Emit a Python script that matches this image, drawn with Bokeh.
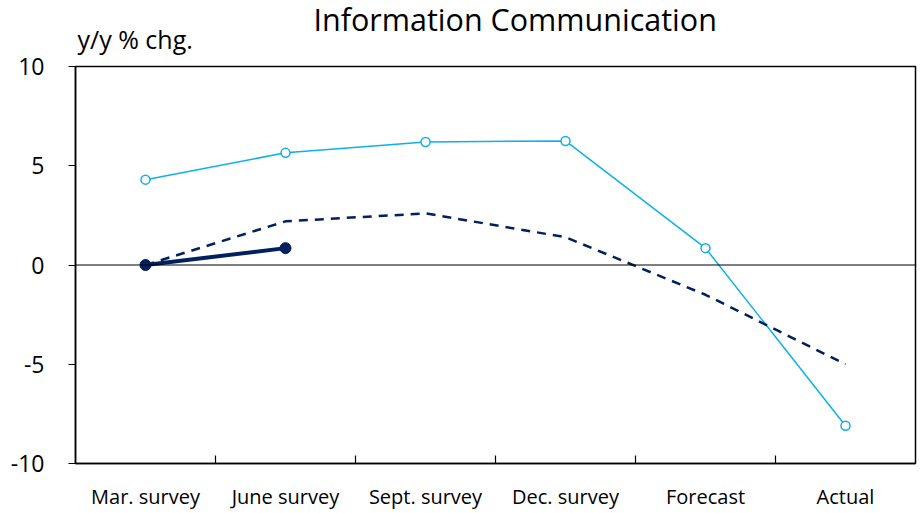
from bokeh.plotting import figure
from bokeh.models import FixedTicker, Span, Range1d, Title
from bokeh.embed import file_html
from bokeh.resources import INLINE

categories = ["Mar. survey", "June survey", "Sept. survey", "Dec. survey", "Forecast", "Actual"]
series_light = [4.3, 5.65, 6.2, 6.25, 0.85, -8.1]
series_dashed = [0.0, 2.2, 2.6, 1.4, -1.5, -5.0]
series_solid = [0.0, 0.85]
y_ticks = [-10, -5, 0, 5, 10]
y_tick_labels = ["-10", "-5", "0", "5", "10"]

FONT = "Open Sans"
LIGHT = "#0DB0EE"
NAVY = "#002060"

xs = [i + 0.5 for i in range(len(categories))]

p = figure(width=922, height=513, output_backend="svg", toolbar_location=None, title=None,
           x_range=Range1d(0, len(categories)), y_range=Range1d(-10, 10),
           min_border_left=75, min_border_right=7, min_border_top=66, min_border_bottom=50)

p.add_layout(Title(text="y/y % chg.", text_font=FONT, text_font_size="25px",
                   text_font_style="normal", text_color="black", align="left",
                   offset=2, standoff=21), "above")
p.add_layout(Title(text="Information Communication", text_font=FONT, text_font_size="30.5px",
                   text_font_style="normal", text_color="black", align="left",
                   offset=238, standoff=-60), "above")

p.xgrid.grid_line_color = None
p.ygrid.grid_line_color = None
p.outline_line_color = "black"
p.outline_line_width = 1.5
p.background_fill_color = "white"
p.border_fill_color = "white"

xa = p.xaxis[0]
xa.ticker = FixedTicker(ticks=xs, minor_ticks=[1, 2, 3, 4, 5])
xa.major_label_overrides = {x: c for x, c in zip(xs, categories)}
xa.major_tick_line_color = None
xa.minor_tick_in = 8
xa.minor_tick_out = 0
xa.minor_tick_line_color = "black"
xa.minor_tick_line_width = 1.2
xa.axis_line_color = "black"
xa.axis_line_width = 1.5
xa.major_label_text_font = FONT
xa.major_label_text_font_size = "20px"
xa.major_label_text_color = "black"
xa.major_label_standoff = 13

ya = p.yaxis[0]
ya.ticker = FixedTicker(ticks=y_ticks)
ya.major_label_overrides = {t: s for t, s in zip(y_ticks, y_tick_labels)}
ya.major_tick_out = 7
ya.major_tick_in = 0
ya.major_tick_line_color = "black"
ya.major_tick_line_width = 1.2
ya.minor_tick_line_color = None
ya.axis_line_color = "black"
ya.axis_line_width = 1.5
ya.major_label_text_font = FONT
ya.major_label_text_font_size = "23px"
ya.major_label_text_color = "black"
ya.major_label_standoff = 24

p.add_layout(Span(location=0, dimension="width", line_color="black", line_width=1.2))

p.line(xs, series_light, line_color=LIGHT, line_width=1.5)
p.scatter(xs, series_light, size=9, fill_color="white", line_color=LIGHT, line_width=1.5)

p.line(xs, series_dashed, line_color=NAVY, line_width=2.5, line_dash="9 7")

p.line(xs[:len(series_solid)], series_solid, line_color=NAVY, line_width=4)
p.scatter(xs[:len(series_solid)], series_solid, size=11, fill_color=NAVY, line_color=NAVY)

open("out.html", "w").write(file_html(p, INLINE))
